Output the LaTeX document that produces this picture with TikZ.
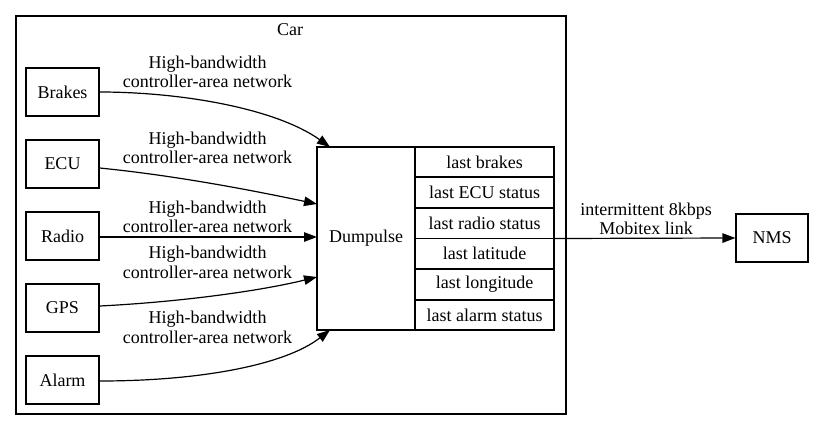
\documentclass[tikz,border=0pt]{standalone}
\usepackage{fontspec}
\newfontfamily\tms{LiberationSerif-Regular.ttf}
\usetikzlibrary{arrows.meta,calc}
\begin{document}
\begin{tikzpicture}[x=1pt,y=-1pt,
  every node/.style={font=\tms\fontsize{18}{19.5}\selectfont},
  box/.style={draw,line width=1.2pt,minimum width=73pt,minimum height=48pt,inner sep=0pt},
  lbl/.style={align=center,inner sep=0pt},
  edge/.style={line width=1.2pt,-{Triangle[length=13pt,width=9.5pt]}},
  frame/.style={draw,line width=1.2pt}]
\useasboundingbox (0,0) rectangle (813,431);
% cluster
\draw[frame] (16,16) rectangle (566,414);
\node[lbl] (car) at (290,30) {Car};
% source nodes
\node[box] (brakes) at (62.5,92) {Brakes};
\node[box] (ecu) at (62.5,164) {ECU};
\node[box] (radio) at (62.5,236) {Radio};
\node[box] (gps) at (62.5,308) {GPS};
\node[box] (alarm) at (62.5,380) {Alarm};
% record
\node[draw,line width=1.2pt,minimum width=237pt,minimum height=183pt,inner sep=0pt] (dump) at (435.5,238.5) {};
\draw[frame] (415,147) -- (415,330);
\foreach \y in {177,208,238.5,269,300} \draw[frame] (415,\y) -- (554,\y);
\node[lbl] (dlabel) at (366,238.5) {Dumpulse};
\node[lbl] (f1) at (484.5,162) {last brakes};
\node[lbl] (f2) at (484.5,192.5) {last ECU status};
\node[lbl] (f3) at (484.5,223) {last radio status};
\node[lbl] (f4) at (484.5,253.5) {last latitude};
\node[lbl] (f5) at (484.5,284.5) {last longitude};
\node[lbl] (f6) at (484.5,315) {last alarm status};
% NMS
\node[box,minimum width=72pt] (nms) at (772,238) {NMS};
% edge endpoints
\coordinate (t1) at (330,147);
\coordinate (t2) at (317,204);
\coordinate (t3) at (317,237);
\coordinate (t4) at (317,277);
\coordinate (t5) at (330,330);
% edges
\draw[edge] (brakes.east |- 0,92) .. controls (180,92) and (275,108) .. (t1);
\draw[edge] ($(ecu.east)+(0,4)$) .. controls (180,176) and (260,192) .. (t2);
\draw[edge] (radio.east |- t3) -- (t3);
\draw[edge] ($(gps.east)+(0,-2)$) .. controls (180,302) and (260,291) .. (t4);
\draw[edge] ($(alarm.east)+(0,1)$) .. controls (200,381) and (285,365) .. (t5);
\draw[edge] (dump.east) -- (nms.west);
% edge labels
\node[lbl] (l1) at (207.5,72) {High-bandwidth\\controller-area network};
\node[lbl] (l2) at (207.5,148) {High-bandwidth\\controller-area network};
\node[lbl] (l3) at (207.5,217) {High-bandwidth\\controller-area network};
\node[lbl] (l4) at (207.5,262.5) {High-bandwidth\\controller-area network};
\node[lbl] (l5) at (207.5,327.5) {High-bandwidth\\controller-area network};
\node[lbl] (l6) at (646,219) {intermittent 8kbps\\Mobitex link};
\end{tikzpicture}
\end{document}
